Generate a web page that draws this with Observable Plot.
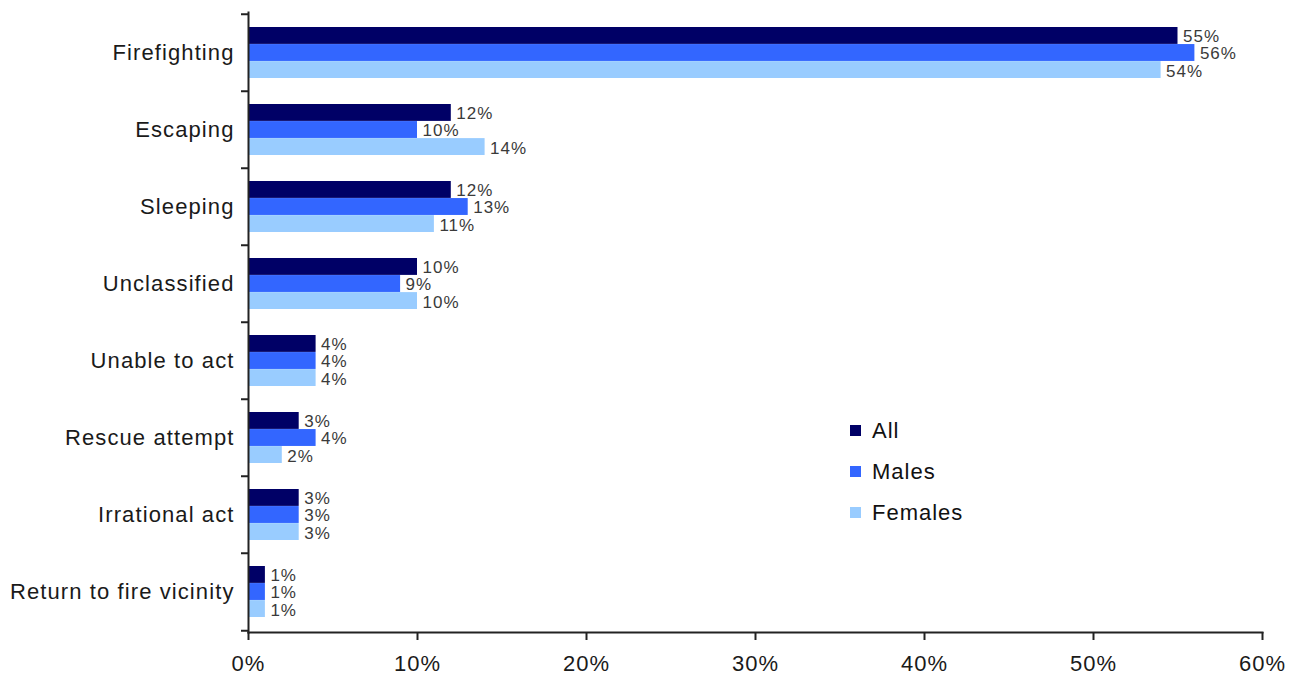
<!DOCTYPE html>
<html>
<head>
<meta charset="utf-8">
<script src="https://cdn.jsdelivr.net/npm/d3@7"></script>
<script src="https://cdn.jsdelivr.net/npm/@observablehq/plot@0.6"></script>
<style>
  html, body { margin: 0; padding: 0; background: #fff; }
  #wrap { position: relative; width: 1306px; height: 678px; font-family: "Liberation Sans", Arial, sans-serif; }
  #legend { position: absolute; left: 850px; top: 410px; font-size: 22px; letter-spacing: 1px; color: #111; }
  #legend .row { display: flex; align-items: center; height: 41px; }
  #legend .sw { width: 11px; height: 11px; margin-right: 11px; }
  svg .ylab text { letter-spacing: 1.1px; }
  svg .xlab text { letter-spacing: 1px; }
  svg .vlab text { letter-spacing: 1px; }
</style>
</head>
<body>
<div id="wrap"><div id="legend"></div></div>
<script>
const categories = ["Firefighting", "Escaping", "Sleeping", "Unclassified", "Unable to act", "Rescue attempt", "Irrational act", "Return to fire vicinity"];
const allValues = [55, 12, 12, 10, 4, 3, 3, 1];
const maleValues = [56, 10, 13, 9, 4, 4, 3, 1];
const femaleValues = [54, 14, 11, 10, 4, 2, 3, 1];
const seriesNames = ["All", "Males", "Females"];
const seriesValues = [allValues, maleValues, femaleValues];
const seriesColors = ["#000066", "#3366ff", "#99ccff"];
const xTicks = [0, 10, 20, 30, 40, 50, 60];

const W = 1306, H = 678;
const mL = 248, mR = 44, mT = 12, mB = 46;
const padInner = 0.34;
const step = (H - mT - mB) / categories.length;
const bw = step * (1 - padInner);
const sub = bw / 3;
const pxPerUnit = (W - mL - mR) / 60;

const marks = [];
seriesNames.forEach((s, i) => {
  const rows = categories.map((c, k) => ({category: c, value: seriesValues[i][k], series: s}));
  marks.push(Plot.barX(rows, {
    x: "value", y: "category", fill: seriesColors[i],
    insetTop: i * sub, insetBottom: (2 - i) * sub
  }));
  marks.push(Plot.text(rows, {
    x: "value", y: "category", text: d => d.value + "%",
    dy: (i - 1) * sub + 1, dx: 5, textAnchor: "start",
    fill: "#3a3a3a", fontSize: 17, className: "vlab"
  }));
});

marks.push(Plot.ruleY(categories, {y: d => d, dy: -step / 2, x1: -7 / pxPerUnit, x2: 0, stroke: "#222", strokeWidth: 2, clip: false}));
marks.push(Plot.ruleY(categories.slice(-1), {y: d => d, dy: step / 2, x1: -7 / pxPerUnit, x2: 0, stroke: "#222", strokeWidth: 2}));
marks.push(Plot.frame({anchor: "left", stroke: "#222", strokeWidth: 2}));
marks.push(Plot.frame({anchor: "bottom", stroke: "#222", strokeWidth: 2}));
marks.push(Plot.axisX({ticks: xTicks, tickFormat: d => d + "%", tickSize: 8, tickPadding: 15, fontSize: 22, stroke: "#222", strokeWidth: 2, fill: "#1a1a1a", label: null, className: "xlab"}));
marks.push(Plot.axisY({tickSize: 0, tickPadding: 14, fontSize: 22, fill: "#1a1a1a", label: null, className: "ylab"}));

const chart = Plot.plot({
  width: W, height: H,
  marginLeft: mL, marginRight: mR, marginTop: mT, marginBottom: mB,
  style: {fontFamily: "'Liberation Sans', Arial, sans-serif", background: "#fff", overflow: "visible"},
  x: {domain: [0, 60]},
  y: {domain: categories, paddingInner: padInner, paddingOuter: padInner / 2},
  marks
});
document.getElementById("wrap").prepend(chart);

const legend = d3.select("#legend");
seriesNames.forEach((s, i) => {
  const r = legend.append("div").attr("class", "row");
  r.append("div").attr("class", "sw").style("background", seriesColors[i]);
  r.append("span").text(s);
});
</script>
</body>
</html>
